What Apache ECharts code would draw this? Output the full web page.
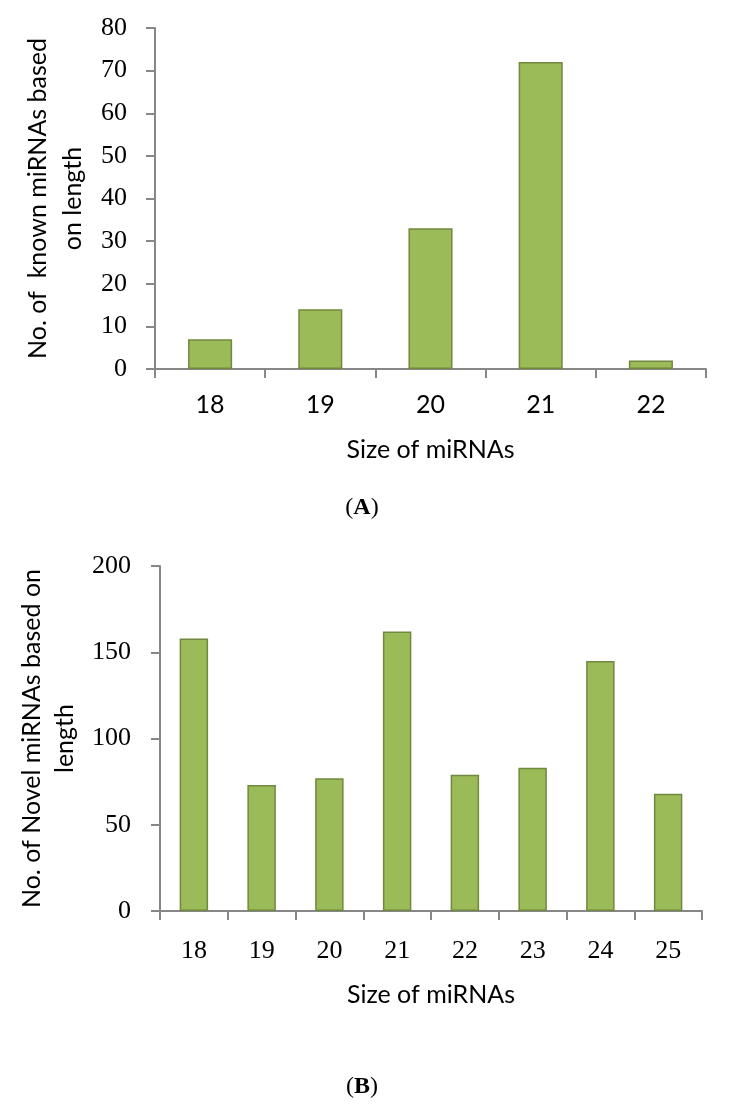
<!DOCTYPE html>
<html>
<head>
<meta charset="utf-8">
<script src="https://cdn.jsdelivr.net/npm/echarts@6/dist/echarts.min.js"></script>
<style>
html,body{margin:0;padding:0;background:#fff;}
#chart{width:730px;height:1106px;}
</style>
</head>
<body>
<div id="chart"></div>
<script>
// ---- data ----
const catA = ['18', '19', '20', '21', '22'];
const knownCounts = [7, 14, 33, 72, 2];
const catB = ['18', '19', '20', '21', '22', '23', '24', '25'];
const novelCounts = [158, 73, 77, 162, 79, 83, 145, 68];
const yTicksA = { min: 0, max: 80, interval: 10 };
const yTicksB = { min: 0, max: 200, interval: 50 };
const xTitle = 'Size of miRNAs';
const yTitleA = 'No. of  known miRNAs based\non length';
const yTitleB = 'No. of Novel miRNAs based on\nlength';

// ---- style ----
const SANS = 'Lato';
const SERIF = 'Liberation Serif';
const AXIS = '#878787';
const axisLine = { show: true, lineStyle: { color: AXIS, width: 2 } };
const axisTick = { show: true, length: 9, lineStyle: { color: AXIS, width: 2 } };
const barStyle = { color: '#9BBB59', borderColor: '#71893F', borderWidth: 1.5 };

const chart = echarts.init(document.getElementById('chart'), null, { renderer: 'canvas' });
chart.setOption({
  backgroundColor: '#fff',
  animation: false,
  title: [
    { text: '({b|A})', left: 357, top: 491, textAlign: 'center',
      textStyle: { fontFamily: SERIF, fontSize: 24, fontWeight: 'normal', color: '#000',
        rich: { b: { fontFamily: SERIF, fontSize: 24, fontWeight: 'bold', color: '#000' } } } },
    { text: '({b|B})', left: 357, top: 1070, textAlign: 'center',
      textStyle: { fontFamily: SERIF, fontSize: 24, fontWeight: 'normal', color: '#000',
        rich: { b: { fontFamily: SERIF, fontSize: 24, fontWeight: 'bold', color: '#000' } } } }
  ],
  grid: [
    { left: 155, top: 28, width: 551, height: 341 },
    { left: 160, top: 566, width: 542, height: 345 }
  ],
  xAxis: [
    { gridIndex: 0, type: 'category', data: catA, axisLine, axisTick,
      axisLabel: { fontFamily: SANS, fontSize: 25, color: '#000', margin: 23 },
      name: xTitle, nameLocation: 'middle', nameGap: 68,
      nameTextStyle: { fontFamily: SANS, fontSize: 25, color: '#000' } },
    { gridIndex: 1, type: 'category', data: catB, axisLine, axisTick,
      axisLabel: { fontFamily: SERIF, fontSize: 26, color: '#000', margin: 27 },
      name: xTitle, nameLocation: 'middle', nameGap: 71,
      nameTextStyle: { fontFamily: SANS, fontSize: 25, color: '#000' } }
  ],
  yAxis: [
    { gridIndex: 0, type: 'value', min: yTicksA.min, max: yTicksA.max, interval: yTicksA.interval,
      axisLine, axisTick, splitLine: { show: false },
      axisLabel: { fontFamily: SERIF, fontSize: 26, color: '#000', margin: 28 },
      name: yTitleA, nameLocation: 'middle', nameGap: 59,
      nameTextStyle: { fontFamily: SANS, fontSize: 25, color: '#000', lineHeight: 35 } },
    { gridIndex: 1, type: 'value', min: yTicksB.min, max: yTicksB.max, interval: yTicksB.interval,
      axisLine, axisTick, splitLine: { show: false },
      axisLabel: { fontFamily: SERIF, fontSize: 26, color: '#000', margin: 29 },
      name: yTitleB, nameLocation: 'middle', nameGap: 73,
      nameTextStyle: { fontFamily: SANS, fontSize: 25, color: '#000', lineHeight: 33 } }
  ],
  series: [
    { type: 'bar', xAxisIndex: 0, yAxisIndex: 0, data: knownCounts, barWidth: '40%', itemStyle: barStyle },
    { type: 'bar', xAxisIndex: 1, yAxisIndex: 1, data: novelCounts, barWidth: '42%', itemStyle: barStyle }
  ]
});
</script>
</body>
</html>
